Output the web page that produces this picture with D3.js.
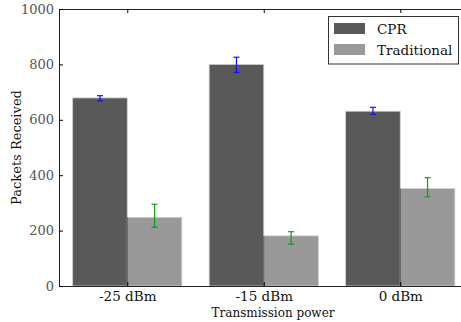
<!DOCTYPE html>
<html><head><meta charset="utf-8">
<script src="https://cdn.jsdelivr.net/npm/d3@7"></script>
<style>body{margin:0;background:#fff;}svg{display:block;}</style>
</head><body>
<script>
const categories = ["-25 dBm", "-15 dBm", "0 dBm"];
const seriesNames = ["CPR", "Traditional"];
const cprValues = [679, 800, 631];
const cprErrLow = [11, 29, 11];
const cprErrHigh = [8, 26, 14];
const tradValues = [248, 181, 352];
const tradErrLow = [36, 30, 30];
const tradErrHigh = [47, 15, 39];
const yTicks = [0, 200, 400, 600, 800, 1000];

const W = 461, H = 322;
const margin = {left: 59, top: 9, bottom: 286};
const svg = d3.select("body").append("svg").attr("width", W).attr("height", H);
const font = "'DejaVu Serif', serif";

const barW = 0.4;
const x = d3.scaleLinear().domain([-0.1, 2.9]).range([margin.left, margin.left + 3 * 136.5]);
const y = d3.scaleLinear().domain([0, 1000]).range([margin.bottom, margin.top]);

const series = [
  {name: seriesNames[0], vals: cprValues, lo: cprErrLow, hi: cprErrHigh, off: 0, fill: "#595959", err: "#1010ff"},
  {name: seriesNames[1], vals: tradValues, lo: tradErrLow, hi: tradErrHigh, off: barW, fill: "#999999", err: "#139a13"}
];

const plot = svg.append("g");
series.forEach(s => {
  plot.selectAll(null).data(s.vals).enter().append("rect")
    .attr("x", (d, i) => x(i + s.off))
    .attr("width", x(barW) - x(0))
    .attr("y", d => y(d))
    .attr("height", d => y(0) - y(d))
    .attr("fill", s.fill)
    .attr("stroke", "#d0d0d0").attr("stroke-width", 0.8);
});
// dark boundary line at left edge of traditional bars
plot.selectAll(null).data(tradValues).enter().append("line")
  .attr("x1", (d, i) => x(i + barW)).attr("x2", (d, i) => x(i + barW))
  .attr("y1", d => y(d)).attr("y2", y(0))
  .attr("stroke", "#333").attr("stroke-width", 0.8);

// error bars
series.forEach(s => {
  const g = plot.append("g").attr("stroke", s.err).attr("stroke-width", 1.2);
  s.vals.forEach((v, i) => {
    const cx = x(i + s.off + barW / 2);
    const y1 = y(v + s.hi[i]), y2 = y(v - s.lo[i]);
    g.append("line").attr("x1", cx).attr("x2", cx).attr("y1", y1).attr("y2", y2);
    g.append("line").attr("x1", cx - 3).attr("x2", cx + 3).attr("y1", y1).attr("y2", y1);
    g.append("line").attr("x1", cx - 3).attr("x2", cx + 3).attr("y1", y2).attr("y2", y2);
  });
});

// axes
const xAxis = d3.axisBottom(x).tickValues(categories.map((c, i) => i + barW))
  .tickFormat((d, i) => categories[i]).tickSizeInner(-4).tickSizeOuter(0).tickPadding(5);
const gx = svg.append("g").attr("transform", `translate(0,${margin.bottom})`).call(xAxis);
gx.select(".domain").attr("stroke", "#222");
gx.selectAll("text").attr("font-family", font).attr("font-size", 13.5).attr("fill", "#111");

const xTop = d3.axisTop(x).tickValues(categories.map((c, i) => i + barW))
  .tickFormat("").tickSizeInner(-4).tickSizeOuter(0);
const gxt = svg.append("g").attr("transform", `translate(0,${margin.top})`).call(xTop);
gxt.select(".domain").attr("stroke", "#222");

const yAxis = d3.axisLeft(y).tickValues(yTicks).tickFormat(d3.format("d"))
  .tickSizeInner(-4).tickSizeOuter(0).tickPadding(5);
const gy = svg.append("g").attr("transform", `translate(${margin.left},0)`).call(yAxis);
gy.select(".domain").attr("stroke", "#222");
gy.selectAll("text").attr("font-family", font).attr("font-size", 13).attr("fill", "#555");

// axis labels
svg.append("text").attr("x", 273).attr("y", 317).attr("text-anchor", "middle")
  .attr("font-family", font).attr("font-size", 12).attr("fill", "#111").text("Transmission power");
svg.append("text").attr("transform", `translate(21,${(margin.top + margin.bottom) / 2}) rotate(-90)`)
  .attr("text-anchor", "middle").attr("font-family", font).attr("font-size", 13).attr("fill", "#111")
  .text("Packets Received");

// legend
const lg = svg.append("g");
lg.append("rect").attr("x", 328.5).attr("y", 16.5).attr("width", 130).attr("height", 47.5)
  .attr("fill", "#fff").attr("stroke", "#333").attr("stroke-width", 1);
series.forEach((s, i) => {
  lg.append("rect").attr("x", 334).attr("y", 23 + i * 21).attr("width", 31).attr("height", 11).attr("fill", s.fill);
  lg.append("text").attr("x", 377).attr("y", 34 + i * 21).attr("font-family", font).attr("font-size", 13.5)
    .attr("fill", "#111").text(s.name);
});
</script>
</body></html>
